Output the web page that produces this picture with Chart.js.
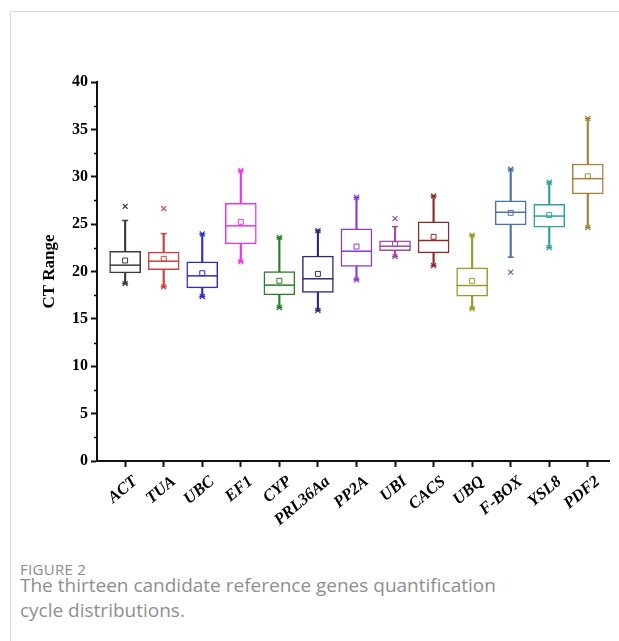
<!DOCTYPE html>
<html>
<head>
<meta charset="utf-8">
<script src="https://cdn.jsdelivr.net/npm/chart.js@4.4.1/dist/chart.umd.min.js"></script>
<style>
  body { margin: 0; width: 619px; height: 641px; overflow: hidden; background: #fff; }
  #frame { position: absolute; left: 10px; top: 11px; width: 609px; height: 640px;
           border-top: 1px solid #d9d9d9; border-left: 1px solid #d9d9d9; }
  #chartBox { position: absolute; left: 0; top: 0; width: 619px; height: 545px; }
  #caption { position: absolute; left: 20px; top: 561px; font-family: "Open Sans", "Noto Sans", sans-serif; color: #888; }
  #caption .fig { font-size: 15px; letter-spacing: 0.3px; line-height: 16px; color: #8a8a8a; }
  #caption .txt { font-size: 19px; line-height: 25px; margin-top: -4px; color: #8e8e8e; }
</style>
</head>
<body>
<div id="frame"></div>
<div id="chartBox"><canvas id="boxChart" width="619" height="545"></canvas></div>
<div id="caption">
  <div class="fig">FIGURE 2</div>
  <div class="txt">The thirteen candidate reference genes quantification<br>cycle distributions.</div>
</div>
<script>
// genes and the box plot statistics
const genes = ["ACT", "TUA", "UBC", "EF1", "CYP", "PRL36Aa", "PP2A", "UBI", "CACS", "UBQ", "F-BOX", "YSL8", "PDF2"];
const q1 = [19.86, 20.18, 18.28, 22.92, 17.54, 17.79, 20.53, 22.21, 21.97, 17.40, 24.92, 24.67, 28.19];
const q3 = [22.14, 22.04, 21.02, 27.20, 20.00, 21.62, 24.50, 23.23, 25.24, 20.39, 27.45, 27.10, 31.35];
const medians = [20.67, 21.09, 19.54, 24.82, 18.56, 19.23, 22.14, 22.67, 23.27, 18.52, 26.25, 25.85, 29.80];
const means = [21.16, 21.34, 19.82, 25.24, 19.02, 19.75, 22.63, 22.88, 23.66, 19.02, 26.19, 25.95, 30.05];
const whiskerLow = [18.73, 18.38, 17.36, 21.05, 16.20, 15.89, 19.12, 21.58, 20.63, 16.07, 21.51, 22.53, 24.64];
const whiskerHigh = [25.38, 24.00, 23.97, 30.65, 23.59, 24.32, 27.83, 24.74, 27.98, 23.83, 30.79, 29.42, 36.16];
const mins = [18.73, 18.38, 17.36, 21.05, 16.20, 15.89, 19.12, 21.58, 20.63, 16.07, 19.93, 22.53, 24.64];
const maxs = [26.88, 26.64, 23.97, 30.65, 23.59, 24.32, 27.83, 25.59, 27.98, 23.83, 30.79, 29.42, 36.16];
const yTicks = [0, 5, 10, 15, 20, 25, 30, 35, 40];

const colors = ["#3c3c3c", "#cc4040", "#2b2bd6", "#ee33ee", "#2a7d2a", "#2c2c78", "#8c3ad6",
                "#a04aa0", "#8c2a2a", "#9a9a28", "#4a70a8", "#2fa0a0", "#a8803c"];

const xs = genes.map((g, i) => i + 1);
const pts = (arr) => arr.map((v, i) => ({ x: xs[i], y: v }));

// short minor ticks on the y axis, between the labelled ones
const minorTicks = {
  id: "minorTicks",
  afterDraw(chart) {
    const y = chart.scales.y;
    const ctx = chart.ctx;
    ctx.save();
    ctx.strokeStyle = "#000";
    ctx.lineWidth = 1.5;
    for (let i = 0; i < yTicks.length - 1; i++) {
      const py = Math.round(y.getPixelForValue((yTicks[i] + yTicks[i + 1]) / 2)) + 0.5;
      ctx.beginPath();
      ctx.moveTo(y.right - 3, py);
      ctx.lineTo(y.right, py);
      ctx.stroke();
    }
    ctx.restore();
  }
};

new Chart(document.getElementById("boxChart"), {
  type: "bar",
  data: {
    datasets: [
      {
        // whisker stems, behind the boxes
        data: xs.map((x, i) => ({ x: x, y: [whiskerLow[i], whiskerHigh[i]] })),
        backgroundColor: colors,
        borderWidth: 0,
        barThickness: 1.5,
        grouped: false,
        order: 6
      },
      {
        // interquartile boxes
        data: xs.map((x, i) => ({ x: x, y: [q1[i], q3[i]] })),
        backgroundColor: "#fff",
        borderColor: colors,
        borderWidth: 1.5,
        borderSkipped: false,
        barThickness: 31,
        grouped: false,
        order: 5
      },
      {
        type: "line",
        data: pts(whiskerHigh).concat(pts(whiskerLow)),
        showLine: false,
        pointStyle: "line",
        pointRadius: 3,
        pointBorderWidth: 1.5,
        pointBorderColor: colors.concat(colors),
        order: 4
      },
      {
        type: "line",
        data: pts(medians),
        showLine: false,
        pointStyle: "line",
        pointRadius: 15.5,
        pointBorderWidth: 1.5,
        pointBorderColor: colors,
        order: 3
      },
      {
        type: "line",
        data: pts(means),
        showLine: false,
        pointStyle: "rect",
        pointRadius: 3.5,
        pointBorderWidth: 1,
        pointBackgroundColor: "rgba(255,255,255,0)",
        pointBorderColor: colors,
        order: 2
      },
      {
        type: "line",
        data: pts(maxs).concat(pts(mins)),
        showLine: false,
        pointStyle: "crossRot",
        pointRadius: 3.5,
        pointBorderWidth: 1.2,
        pointBorderColor: colors.concat(colors),
        order: 1
      }
    ]
  },
  options: {
    responsive: false,
    animation: false,
    devicePixelRatio: 1,
    layout: { autoPadding: false, padding: { left: 10, top: 82, right: 10, bottom: 0 } },
    plugins: { legend: { display: false }, tooltip: { enabled: false } },
    scales: {
      x: {
        type: "linear",
        min: 0.27,
        max: 13.55,
        offset: false,
        afterBuildTicks: (scale) => { scale.ticks = xs.map((v) => ({ value: v })); },
        afterFit: (scale) => { scale.height = 84; },
        border: { display: true, color: "#111", width: 2 },
        grid: { display: true, offset: false, drawOnChartArea: false, drawTicks: true, tickLength: 6, tickColor: "#111", tickWidth: 2 },
        ticks: {
          autoSkip: false,
          minRotation: 40,
          maxRotation: 40,
          padding: 5,
          labelOffset: 10,
          color: "#000",
          font: { family: "'Liberation Serif', 'Times New Roman', serif", size: 16.5, weight: "bold", style: "italic" },
          callback: (v) => genes[v - 1]
        }
      },
      y: {
        min: 0,
        max: 40,
        afterBuildTicks: (scale) => { scale.ticks = yTicks.map((v) => ({ value: v })); },
        afterFit: (scale) => { scale.width = 87; },
        border: { display: true, color: "#111", width: 2 },
        grid: { display: true, drawOnChartArea: false, drawTicks: true, tickLength: 6, tickColor: "#111", tickWidth: 2 },
        ticks: {
          padding: 3,
          color: "#000",
          font: { family: "'Liberation Serif', 'Times New Roman', serif", size: 16, weight: "bold" }
        },
        title: {
          display: true,
          text: "CT Range",
          color: "#000",
          padding: { top: 29, bottom: 0 },
          font: { family: "'Liberation Serif', 'Times New Roman', serif", size: 17, weight: "bold" }
        }
      }
    }
  },
  plugins: [minorTicks]
});
</script>
</body>
</html>
